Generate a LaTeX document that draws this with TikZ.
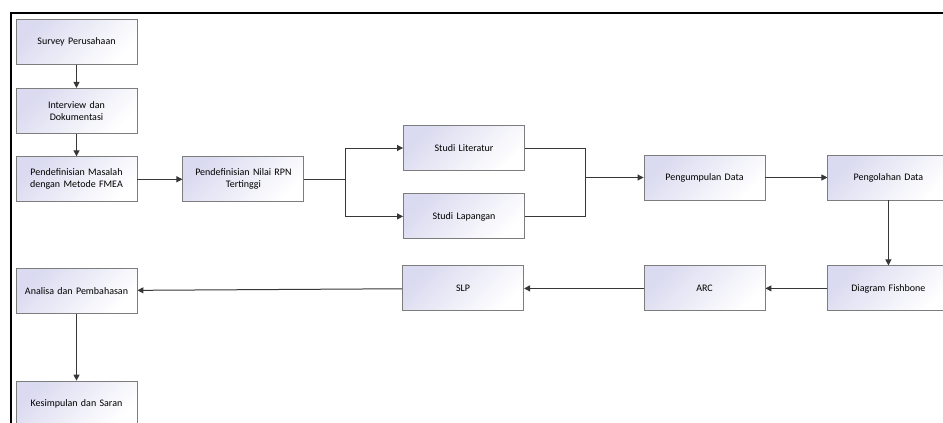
\documentclass[tikz,border=0pt]{standalone}
\usepackage{fontspec}
\setmainfont{Carlito}
\usetikzlibrary{positioning,arrows.meta,calc}
\definecolor{boxblue}{RGB}{218,218,240}
\definecolor{boxline}{RGB}{125,125,125}
\definecolor{linegray}{RGB}{55,55,55}

\begin{document}
\begin{tikzpicture}[x=1pt,y=-1pt,
  every node/.style={font=\fontsize{10}{12}\selectfont},
  stepbox/.style={draw=boxline,line width=0.9pt,top color=boxblue,bottom color=white,
    shading angle=45,minimum width=121pt,minimum height=45pt,text width=111pt,
    inner sep=5pt,align=center},
  arr/.style={draw=linegray,line width=1pt,-{Triangle[length=6pt,width=6pt]}},
  con/.style={draw=linegray,line width=1pt}
]
\useasboundingbox (0,0) rectangle (943,423);
\clip (0,0) rectangle (943,423);

% the frame
\draw[line width=1.5pt] (11,13) rectangle (960,440);

% the first column
\node[stepbox] (survey) at (76.5,42) {Survey Perusahaan};
\node[stepbox,below=23pt of survey] (interview) {Interview dan\\Dokumentasi};
\node[stepbox,below=22.5pt of interview] (masalah) {Pendefinisian Masalah\\dengan Metode FMEA};
\node[stepbox,right=45pt of masalah] (rpn) {Pendefinisian Nilai RPN\\Tertinggi};

% the studies
\node[stepbox] (literatur) at (464,148) {Studi Literatur};
\node[stepbox,below=22.5pt of literatur] (lapangan) {Studi Lapangan};
\coordinate[right=41pt of rpn.east] (split);
\coordinate (merge) at (585,177.5);

% the data
\node[stepbox] (kumpul) at (704.5,177.5) {Pengumpulan Data};
\node[stepbox,right=62pt of kumpul] (olah) {Pengolahan Data};
\node[stepbox,below=65pt of olah] (fishbone) {Diagram Fishbone};
\node[stepbox,left=62pt of fishbone] (arc) {ARC};
\node[stepbox,left=119.5pt of arc] (slp) {SLP};

% the end
\node[stepbox,below=65.5pt of masalah] (analisa) {Analisa dan Pembahasan};
\node[stepbox,below=67pt of analisa] (kesimpulan) {Kesimpulan dan Saran};

% the edges
\draw[arr] (survey) -- (interview);
\draw[arr] (interview) -- (masalah);
\draw[arr] (masalah) -- (rpn);
\draw[con] (rpn) -- (split);
\draw[arr] (split) |- (literatur);
\draw[arr] (split) |- (lapangan);
\draw[con] (literatur) -| (merge);
\draw[con] (lapangan) -| (merge);
\draw[arr] (merge) -- (kumpul);
\draw[arr] (kumpul) -- (olah);
\draw[arr] (olah) -- (fishbone);
\draw[arr] (fishbone) -- (arc);
\draw[arr] (arc) -- (slp);
\draw[arr] (slp) -- (analisa);
\draw[arr] (analisa) -- (kesimpulan);
\end{tikzpicture}
\end{document}
